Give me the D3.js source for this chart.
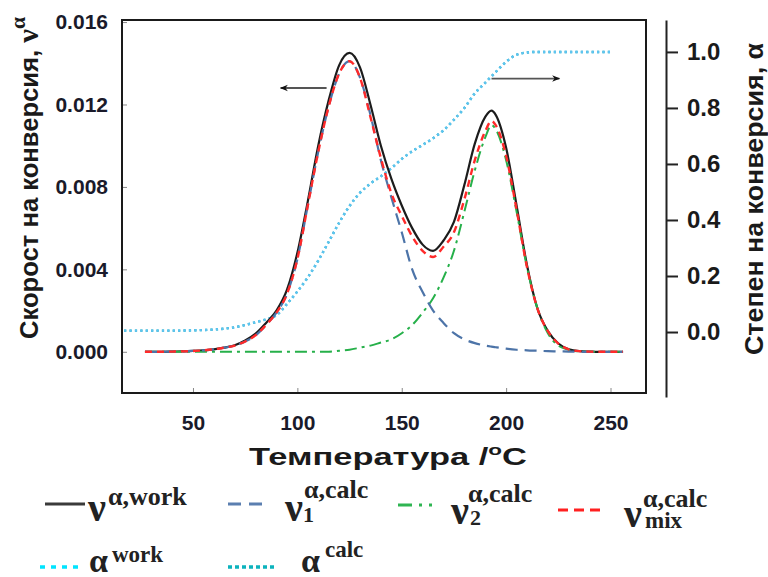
<!DOCTYPE html>
<html>
<head>
<meta charset="utf-8">
<script src="https://cdn.jsdelivr.net/npm/d3@7"></script>
<style>
  body { margin: 0; background: #fff; }
  svg { font-family: "Liberation Sans", Arial, sans-serif; }
</style>
</head>
<body>
<svg id="chart" width="768" height="577"></svg>
<script>
// temperature grid of the rate curves, °C
const temps = [27, 35, 40, 45, 50, 55, 60, 65, 70, 75,
               80, 85, 90, 95, 100, 105, 110, 115, 120, 125,
               130, 135, 140, 145, 150, 155, 160, 165, 170, 175,
               180, 185, 190, 193, 195, 200, 205, 210, 215, 220,
               225, 230, 235, 240, 245, 250, 256];

// ν^α,work (black solid)
const nuWork = [0, 0, 0.00001, 0.00002, 0.00004, 0.00007, 0.00012, 0.0002, 0.00032, 0.00055,
                0.00088, 0.0014, 0.002, 0.003, 0.0048, 0.0073, 0.0100, 0.0122, 0.0139, 0.0145,
                0.0138, 0.0120, 0.0100, 0.0084, 0.0071, 0.0060, 0.0052, 0.0049, 0.0054, 0.0063,
                0.0081, 0.0101, 0.0114, 0.0117, 0.0115, 0.0099, 0.0071, 0.0042, 0.0021, 0.001,
                0.0004, 0.00012, 0.00003, 0.00001, 0, 0, 0];

// ν1^α,calc (blue dashed)
const nu1 = [0, 0, 0.00001, 0.00002, 0.00004, 0.00007, 0.00012, 0.0002, 0.0003, 0.0005,
             0.0008, 0.0013, 0.0019, 0.0028, 0.0045, 0.0071, 0.0097, 0.0119, 0.0135, 0.0141,
             0.0133, 0.0115, 0.0093, 0.0075, 0.0058, 0.0040, 0.0029, 0.0020, 0.0014, 0.0009,
             0.0006, 0.00042, 0.0003, 0.00025, 0.00022, 0.00015, 0.0001, 0.00007, 0.00005, 0.00003,
             0.00002, 0.00001, 0, 0, 0, 0, 0];

// ν2^α,calc (green dash-dot)
const nu2 = [0, 0, 0, 0, 0, 0, 0, 0, 0, 0,
             0, 0, 0, 0, 0, 0, 0, 0, 0.00005, 0.0001,
             0.0002, 0.0003, 0.00045, 0.0006, 0.0009, 0.0013, 0.0019, 0.0026, 0.0036, 0.0049,
             0.0068, 0.0088, 0.0104, 0.0110, 0.0108, 0.0093, 0.0068, 0.0041, 0.0021, 0.0009,
             0.0003, 0.0001, 0.00002, 0, 0, 0, 0];

// νmix^α,calc (red dashed)
const nuMix = [0, 0, 0.00001, 0.00002, 0.00004, 0.00007, 0.00012, 0.0002, 0.0003, 0.0005,
               0.0008, 0.0013, 0.0019, 0.0028, 0.0045, 0.0071, 0.0097, 0.0119, 0.0135, 0.0141,
               0.0133, 0.0114, 0.0094, 0.0077, 0.0066, 0.0056, 0.0049, 0.0046, 0.0051, 0.0058,
               0.0074, 0.0093, 0.0107, 0.0112, 0.0110, 0.0095, 0.0069, 0.0041, 0.0021, 0.001,
               0.0004, 0.00012, 0.00003, 0.00001, 0, 0, 0];

// conversion degree α, right axis
const alphaTemps = [17, 30, 40, 50, 60, 65, 70, 75, 80, 85,
                    90, 95, 100, 105, 110, 115, 120, 125, 130, 135,
                    140, 145, 150, 155, 160, 165, 170, 175, 180, 185,
                    190, 195, 200, 205, 210, 215, 220, 230, 240, 250];
const alphaWork = [0.005, 0.005, 0.005, 0.006, 0.009, 0.012, 0.017, 0.025, 0.035, 0.045,
                   0.06, 0.1, 0.145, 0.195, 0.255, 0.322, 0.39, 0.45, 0.497, 0.53,
                   0.556, 0.585, 0.618, 0.645, 0.668, 0.692, 0.72, 0.758, 0.80, 0.852,
                   0.89, 0.928, 0.965, 0.99, 0.998, 1.0, 1.0, 1.0, 1.0, 1.0];
// α calc lies under α work in the picture
const alphaCalc = alphaWork;

const rateTicks = [0, 0.004, 0.008, 0.012, 0.016];
const alphaTicks = [0, 0.2, 0.4, 0.6, 0.8, 1.0];
const tempTicks = [50, 100, 150, 200, 250];

// arrows: [T from, T to, value]
const rateArrow = [114, 92, 0.0128];
const alphaArrow = [193, 225.5, 0.905];

const svg = d3.select("#chart");

const x = d3.scaleLinear().domain([16, 267]).range([122, 646]);
const yRate = d3.scaleLinear().domain([-0.002, 0.0161]).range([393, 20]);
const yAlpha = d3.scaleLinear().domain([-0.232, 1.114]).range([397, 20]);

// left axis
const leftAxis = svg.append("g")
  .attr("transform", "translate(122,0)")
  .call(d3.axisLeft(yRate).tickValues(rateTicks).tickFormat(d3.format(".3f"))
    .tickSize(-5).tickSizeOuter(0).tickPadding(14));
leftAxis.select(".domain").remove();
leftAxis.selectAll("line").attr("stroke", "#888");
leftAxis.selectAll("text").attr("font-size", 21).attr("font-weight", "bold").attr("fill", "#1a1a2a");

// bottom axis
const bottomAxis = svg.append("g")
  .attr("transform", "translate(0,393)")
  .call(d3.axisBottom(x).tickValues(tempTicks).tickSize(-5).tickSizeOuter(0).tickPadding(22));
bottomAxis.select(".domain").remove();
bottomAxis.selectAll("line").attr("stroke", "#888");
bottomAxis.selectAll("text").attr("font-size", 21).attr("font-weight", "bold").attr("fill", "#1a1a2a");

// right axis
const rightAxis = svg.append("g")
  .attr("transform", "translate(666,0)")
  .call(d3.axisRight(yAlpha).tickValues(alphaTicks).tickFormat(d3.format(".1f"))
    .tickSize(12).tickSizeOuter(0).tickPadding(9));
rightAxis.select(".domain").attr("stroke", "#222").attr("stroke-width", 2);
rightAxis.selectAll("line").attr("stroke", "#222").attr("stroke-width", 2);
rightAxis.selectAll("text").attr("font-size", 24).attr("font-weight", "bold").attr("fill", "#1a1a1a");

// plot frame
svg.append("rect")
  .attr("x", 122).attr("y", 20)
  .attr("width", 646 - 122).attr("height", 393 - 20)
  .attr("fill", "none").attr("stroke", "#1a1a1a").attr("stroke-width", 2);

const rateLine = d3.line()
  .x((d, i) => x(temps[i]))
  .y(d => yRate(d))
  .curve(d3.curveMonotoneX);

const alphaLine = d3.line()
  .x((d, i) => x(alphaTemps[i]))
  .y(d => yAlpha(d))
  .curve(d3.curveMonotoneX);

const styles = {
  work:  { color: "#1c1c1c", dash: null, width: 2.2 },
  nu1:   { color: "#4d74a8", dash: "12 7", width: 2.2 },
  nu2:   { color: "#26b04a", dash: "12 5 3 5", width: 2 },
  mix:   { color: "#ff2a2a", dash: "7 5", width: 2.4 },
  aWork: { color: "#5ec4f2", dash: "2.2 3.2", width: 2.4 },
  aCalc: { color: "#17a9b8", dash: "2.2 3.2", width: 2.4 }
};

function drawPath(values, line, st) {
  svg.append("path")
    .datum(values)
    .attr("d", line)
    .attr("fill", "none")
    .attr("stroke", st.color)
    .attr("stroke-width", st.width)
    .attr("stroke-dasharray", st.dash);
}

drawPath(alphaCalc, alphaLine, styles.aCalc);
drawPath(alphaWork, alphaLine, styles.aWork);
drawPath(nuWork, rateLine, styles.work);
drawPath(nu2, rateLine, styles.nu2);
drawPath(nu1, rateLine, styles.nu1);
drawPath(nuMix, rateLine, styles.mix);

// arrows
const defs = svg.append("defs");
defs.append("marker")
  .attr("id", "head")
  .attr("viewBox", "0 0 10 10")
  .attr("refX", 9).attr("refY", 5)
  .attr("markerWidth", 15).attr("markerHeight", 8)
  .attr("markerUnits", "userSpaceOnUse")
  .attr("orient", "auto")
  .append("path").attr("d", "M0,1 L10,5 L0,9 L3,5 Z").attr("fill", "#111");

svg.append("line")
  .attr("x1", x(rateArrow[0])).attr("x2", x(rateArrow[1]))
  .attr("y1", yRate(rateArrow[2])).attr("y2", yRate(rateArrow[2]))
  .attr("stroke", "#555").attr("stroke-width", 1.8)
  .attr("marker-end", "url(#head)");

svg.append("line")
  .attr("x1", x(alphaArrow[0])).attr("x2", x(alphaArrow[1]))
  .attr("y1", yAlpha(alphaArrow[2])).attr("y2", yAlpha(alphaArrow[2]))
  .attr("stroke", "#555").attr("stroke-width", 1.8)
  .attr("marker-end", "url(#head)");

// axis titles
const leftTitle = svg.append("text")
  .attr("transform", "translate(38,178) rotate(-90)")
  .attr("text-anchor", "middle")
  .attr("font-size", 25).attr("font-weight", "bold").attr("fill", "#1a1a1a")
  .attr("textLength", 322).attr("lengthAdjust", "spacingAndGlyphs");
leftTitle.append("tspan").text("Скорост на конверсия, ");
leftTitle.append("tspan").attr("font-family", "Liberation Serif").attr("font-size", 30).text("ν");
leftTitle.append("tspan").attr("font-family", "Liberation Serif").attr("font-size", 21)
  .attr("dy", -13).text("α");

svg.append("text")
  .attr("transform", "translate(763,199) rotate(-90)")
  .attr("text-anchor", "middle")
  .attr("font-size", 25).attr("font-weight", "bold").attr("fill", "#1a1a1a")
  .attr("textLength", 312).attr("lengthAdjust", "spacingAndGlyphs")
  .text("Степен на конверсия, α");

const xTitle = svg.append("text")
  .attr("x", 388).attr("y", 465)
  .attr("text-anchor", "middle")
  .attr("font-size", 23).attr("font-weight", "bold").attr("fill", "#1a1a1a")
  .attr("textLength", 278).attr("lengthAdjust", "spacingAndGlyphs");
xTitle.append("tspan").text("Температура /");
xTitle.append("tspan").attr("font-size", 15).attr("dy", -10).text("o");
xTitle.append("tspan").attr("dy", 10).text("C");

// legend
const legendItems = [
  { key: "work",  main: "ν", sup: "α,work", sub: "" },
  { key: "nu1",   main: "ν", sup: "α,calc", sub: "1" },
  { key: "nu2",   main: "ν", sup: "α,calc", sub: "2" },
  { key: "mix",   main: "ν", sup: "α,calc", sub: "mix" },
  { key: "aWork", main: "α", sup: "work", sub: "" },
  { key: "aCalc", main: "α", sup: "calc", sub: "" }
];
const legendSwatch = {
  work:  { x1: 45, x2: 85, y: 504, dash: null, color: "#3a3a3a", width: 3 },
  nu1:   { x1: 228, x2: 268, y: 504, dash: "13 8", color: "#5b7fb0", width: 3 },
  nu2:   { x1: 398, x2: 444, y: 505, dash: "14 7 3 7 3", color: "#2fb552", width: 3 },
  mix:   { x1: 558, x2: 602, y: 510, dash: "10 6", color: "#ff2020", width: 3 },
  aWork: { x1: 40, x2: 79, y: 567, dash: "5 6", color: "#00e4ff", width: 3.5 },
  aCalc: { x1: 228, x2: 275, y: 567, dash: "4 3", color: "#0cb3bd", width: 3.5 }
};
const legendText = {
  work:  { mx: 88, my: 521, sx: 108, sy: 505, bx: 0, by: 0 },
  nu1:   { mx: 285, my: 521, sx: 304, sy: 498, bx: 303, by: 522 },
  nu2:   { mx: 451, my: 524, sx: 468, sy: 502, bx: 470, by: 525 },
  mix:   { mx: 624, my: 527, sx: 643, sy: 507, bx: 645, by: 528 },
  aWork: { mx: 89, my: 572, sx: 112, sy: 562, bx: 0, by: 0 },
  aCalc: { mx: 301, my: 572, sx: 325, sy: 557, bx: 0, by: 0 }
};

legendItems.forEach(item => {
  const sw = legendSwatch[item.key];
  const t = legendText[item.key];
  const isNu = item.main === "ν";
  svg.append("line")
    .attr("x1", sw.x1).attr("x2", sw.x2).attr("y1", sw.y).attr("y2", sw.y)
    .attr("stroke", sw.color).attr("stroke-width", sw.width)
    .attr("stroke-dasharray", sw.dash);
  const g = svg.append("g")
    .attr("font-family", "Liberation Serif, Times New Roman, serif")
    .attr("font-weight", "bold").attr("fill", "#222");
  g.append("text").attr("x", t.mx).attr("y", t.my)
    .attr("font-size", isNu ? 40 : 34).text(item.main);
  g.append("text").attr("x", t.sx).attr("y", t.sy)
    .attr("font-size", isNu ? 26 : 23).text(item.sup);
  if (item.sub) {
    g.append("text").attr("x", t.bx).attr("y", t.by)
      .attr("font-size", item.sub === "mix" ? 23 : 22).text(item.sub);
  }
});
</script>
</body>
</html>
